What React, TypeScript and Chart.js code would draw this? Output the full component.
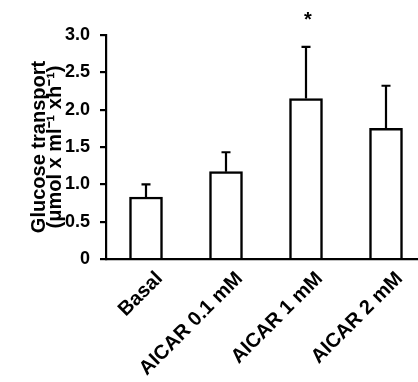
import React, { useEffect, useRef } from "react";
import { Chart, registerables, LinearScale } from "chart.js";

Chart.register(...registerables);

class FlatLinearScale extends (LinearScale as any) {
  _calculatePadding() {
    this.paddingLeft = 0;
    this.paddingRight = 0;
    this.paddingTop = 0;
    this.paddingBottom = 0;
  }
}
(FlatLinearScale as any).id = "flatLinear";
(FlatLinearScale as any).defaults = (LinearScale as any).defaults;
Chart.register(FlatLinearScale as any);

const categories = ["Basal", "AICAR 0.1 mM", "AICAR 1 mM", "AICAR 2 mM"];
const means = [0.83, 1.17, 2.15, 1.75];
const sems = [0.17, 0.26, 0.69, 0.57];
const significance = ["", "", "*", ""];
const yTicks = [0, 0.5, 1, 1.5, 2, 2.5, 3];
const yTitle = ["Glucose transport", "(\u03bcmol x ml\u207b\u00b9 xh\u207b\u00b9)"];

const FONT = "'Liberation Sans', Arial, Helvetica, sans-serif";
const LABEL_SHIFT = 0.17;

const errorBarPlugin = {
  id: "errorBars",
  afterDatasetsDraw(chart: any) {
    const ctx = chart.ctx;
    const meta = chart.getDatasetMeta(0);
    const yScale = chart.scales.y;
    ctx.save();
    ctx.strokeStyle = "#000";
    ctx.fillStyle = "#000";
    ctx.lineWidth = 2.2;
    meta.data.forEach((bar: any, i: number) => {
      const x = bar.x;
      const yTop = bar.y;
      const yErr = yScale.getPixelForValue(means[i] + sems[i]);
      ctx.beginPath();
      ctx.moveTo(x, yTop);
      ctx.lineTo(x, yErr);
      ctx.moveTo(x - 4.5, yErr);
      ctx.lineTo(x + 4.5, yErr);
      ctx.stroke();
      if (significance[i]) {
        ctx.font = `bold 20px ${FONT}`;
        ctx.textAlign = "center";
        ctx.textBaseline = "alphabetic";
        ctx.fillText(significance[i], x + 2, yErr - 21);
      }
    });
    ctx.restore();
  },
};

export default function App() {
  const ref = useRef<HTMLCanvasElement | null>(null);
  useEffect(() => {
    if (!ref.current) return;
    const chart = new Chart(ref.current, {
      type: "bar",
      data: {
        datasets: [
          {
            data: means.map((y, i) => ({ x: i, y })),
            backgroundColor: "#fff",
            borderColor: "#000",
            borderWidth: 2.5,
            barThickness: 33,
          },
        ],
      },
      options: {
        animation: false,
        responsive: false,
        layout: { padding: { top: 35, right: 0, left: 0, bottom: 0 } },
        plugins: { legend: { display: false }, tooltip: { enabled: false } },
        scales: {
          x: {
            type: "flatLinear" as any,
            offset: false,
            min: -0.5,
            max: 3.4,
            grid: { display: false, drawTicks: false, tickLength: 0, offset: false },
            border: { display: true, color: "#000", width: 2.2 },
            afterBuildTicks: (scale: any) => {
              scale.ticks = categories.map((_, i) => ({ value: i + LABEL_SHIFT }));
            },
            afterFit: (scale: any) => {
              scale.height = 382 - 259;
            },
            ticks: {
              autoSkip: false,
              maxRotation: 45,
              minRotation: 45,
              padding: 8,
              color: "#000",
              font: { family: FONT, size: 20, weight: "bold" },
              callback: (v: any) => categories[Math.round(Number(v) - LABEL_SHIFT)] ?? "",
            },
          },
          y: {
            min: 0,
            max: 3,
            afterBuildTicks: (scale: any) => {
              scale.ticks = yTicks.map((v) => ({ value: v }));
            },
            afterFit: (scale: any) => {
              scale.width = 106;
            },
            grid: {
              drawOnChartArea: false,
              drawTicks: true,
              tickLength: 6,
              color: "#000",
              lineWidth: 2.2,
            },
            border: { display: true, color: "#000", width: 2.2 },
            ticks: {
              padding: 10,
              color: "#000",
              font: { family: FONT, size: 18, weight: "bold" },
              callback: (v: any) => (Number(v) === 0 ? "0" : Number(v).toFixed(1)),
            },
            title: {
              display: true,
              text: yTitle,
              color: "#000",
              padding: { top: 31, bottom: 0 },
              font: { family: FONT, size: 20, weight: "bold", lineHeight: 0.8 },
            },
          },
        },
      },
      plugins: [errorBarPlugin],
    });
    return () => chart.destroy();
  }, []);
  return (
    <div style={{ position: "absolute", left: 0, top: 0, width: 418, height: 382, background: "#fff" }}>
      <canvas ref={ref} width={418} height={382} />
    </div>
  );
}
